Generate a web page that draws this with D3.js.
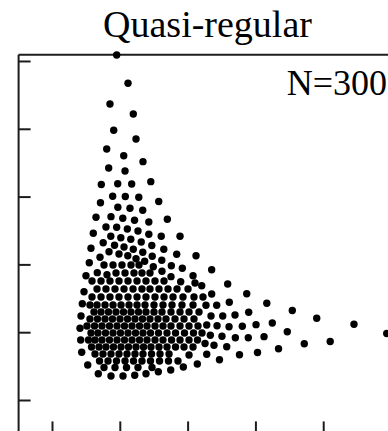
<!DOCTYPE html>
<html>
<head>
<meta charset="utf-8">
<script src="https://cdn.jsdelivr.net/npm/d3@7"></script>
<style>
body { margin: 0; background: #fff; }
svg { display: block; }
</style>
</head>
<body>
<svg id="chart" width="388" height="431"></svg>
<script>
// ticks have no labels in the figure
var xTicks = [0, 1, 2, 3, 4, 5];
var yTicks = [0, 1, 2, 3, 4, 5];

// point positions (x, y pairs by index)
// outer / sparse points
var xs = [0.954,1.121,0.855,1.199,0.910,1.239,0.807,1.058,1.342,0.836,1.077,0.727,0.969,1.175,1.457,0.895,1.081,1.280,1.574,0.715,
0.971,1.150,1.338,0.649,0.870,1.044,1.217,1.428,1.701,0.609,0.796,0.954,1.111,1.268,1.428,1.611,1.888,0.867,1.015,1.162,
1.316,1.472,1.649,1.839,2.124,0.575,0.755,0.922,1.062,1.199,1.339,1.478,1.619,1.760,1.922,2.355,0.550,0.708,0.841,0.988,
1.118,1.239,1.367,1.494,1.622,1.755,1.898,2.080,2.208,2.591,2.355,2.872,2.271,2.429,2.615,3.168,2.345,2.518,2.699,2.901,
3.544,2.282,2.434,2.611,2.807,3.009,3.249,3.470,2.335,2.507,2.704,2.895,3.127,2.257,2.389,2.577,3.341,2.282,2.765,3.031,
2.470,3.904,4.454,4.937,3.721,4.103,2.143,1.937,1.751,1.568,1.386,1.220,1.047,0.870,0.683,0.527,0.438,0.423,0.413,0.428,
0.447,0.472,0.501,0.668,0.811];
var ys = [5.088,4.671,4.366,4.218,3.978,3.850,3.702,3.603,3.515,3.422,3.378,3.178,3.190,3.186,3.220,3.006,3.001,2.990,2.928,2.909,
2.842,2.827,2.798,2.695,2.704,2.681,2.652,2.625,2.665,2.459,2.552,2.547,2.522,2.493,2.445,2.416,2.414,2.414,2.394,2.370,
2.330,2.279,2.224,2.149,2.128,2.237,2.319,2.283,2.257,2.223,2.178,2.121,2.062,1.981,1.942,1.922,2.024,2.105,2.186,2.153,
2.127,2.084,2.046,1.966,1.898,1.819,1.745,1.833,1.686,1.711,1.563,1.566,1.397,1.397,1.441,1.426,1.239,1.239,1.254,1.294,
1.320,1.106,1.096,1.081,1.087,1.111,1.136,1.006,0.954,0.940,0.919,0.919,0.934,0.833,0.807,0.786,0.755,0.674,0.668,0.701,
0.593,1.205,1.117,0.981,0.830,0.863,0.531,0.487,0.442,0.417,0.388,0.364,0.354,0.354,0.388,0.516,0.704,0.885,1.058,1.239,
1.420,1.597,1.833,1.878,1.848];

// dense core, row by row
var coreX = [0.767,0.900,1.032,1.165,1.283,
0.944,1.077,1.209,1.327,1.445,
0.590,0.723,0.855,0.988,1.121,1.254,1.386,1.519,1.652,
0.664,0.796,0.929,1.062,1.195,1.327,1.445,1.578,1.711,1.844,2.006,
0.590,0.723,0.855,0.988,1.121,1.254,1.386,1.519,1.652,1.785,1.932,2.094,2.227,
0.560,0.664,0.782,0.900,1.018,1.136,1.254,1.372,1.504,1.637,1.770,1.917,2.080,
0.619,0.723,0.833,0.944,1.055,1.165,1.276,1.386,1.504,1.622,1.755,1.888,2.021,2.168,
0.560,0.671,0.782,0.892,1.003,1.114,1.224,1.335,1.445,1.563,1.681,1.814,1.947,2.094,
0.516,0.627,0.737,0.848,0.959,1.069,1.180,1.291,1.401,1.519,1.637,1.755,1.888,2.021,2.153,
0.575,0.678,0.789,0.900,1.010,1.121,1.232,1.342,1.453,1.571,1.696,1.822,1.954,2.087,2.212,
0.538,0.634,0.737,0.848,0.959,1.069,1.180,1.291,1.401,1.519,1.637,1.763,1.888,2.021,2.146,
0.583,0.693,0.796,0.907,1.018,1.128,1.239,1.350,1.460,1.578,1.696,1.822,1.947,2.080,
0.634,0.752,0.870,0.988,1.106,1.224,1.342,1.468,1.593,1.726,
0.701,0.826,0.951,1.077,1.202,1.327,1.453,1.586,1.718,1.858,2.021,
0.767,0.929,1.099,1.268,1.475,2.109];
var coreY = [1.991,1.991,1.991,1.991,1.991,
1.873,1.873,1.873,1.873,1.873,
1.755,1.755,1.755,1.755,1.755,1.755,1.755,1.755,1.755,
1.637,1.637,1.637,1.637,1.637,1.637,1.637,1.637,1.637,1.637,1.637,
1.519,1.519,1.519,1.519,1.519,1.519,1.519,1.519,1.519,1.519,1.519,1.519,1.519,
1.401,1.401,1.401,1.401,1.401,1.401,1.401,1.401,1.401,1.401,1.401,1.401,1.401,
1.298,1.298,1.298,1.298,1.298,1.298,1.298,1.298,1.298,1.298,1.298,1.298,1.298,1.298,
1.195,1.195,1.195,1.195,1.195,1.195,1.195,1.195,1.195,1.195,1.195,1.195,1.195,1.195,
1.091,1.091,1.091,1.091,1.091,1.091,1.091,1.091,1.091,1.091,1.091,1.091,1.091,1.091,1.091,
0.988,0.988,0.988,0.988,0.988,0.988,0.988,0.988,0.988,0.988,0.988,0.988,0.988,0.988,0.988,
0.885,0.885,0.885,0.885,0.885,0.885,0.885,0.885,0.885,0.885,0.885,0.885,0.885,0.885,0.885,
0.782,0.782,0.782,0.782,0.782,0.782,0.782,0.782,0.782,0.782,0.782,0.782,0.782,0.782,
0.678,0.678,0.678,0.678,0.678,0.678,0.678,0.678,0.678,0.678,
0.575,0.575,0.575,0.575,0.575,0.575,0.575,0.575,0.575,0.575,0.664,
0.479,0.479,0.479,0.479,0.479,1.726];

var points = xs.map(function(d, i) { return {x: d, y: ys[i]}; })
  .concat(coreX.map(function(d, i) { return {x: d, y: coreY[i]}; }));

var svg = d3.select("#chart");

var x = d3.scaleLinear().domain([-0.5, 5.1]).range([18.1, 397.8]);
var y = d3.scaleLinear().domain([-0.5, 5.1]).range([433.9, 54.2]);

var axisColor = "#1c1c1c";

// left frame + ticks (pointing inward)
svg.append("g")
  .attr("class", "axis axis--y")
  .attr("transform", "translate(" + x(-0.5) + ",0)")
  .call(d3.axisLeft(y).tickValues(yTicks).tickSize(-12.5).tickSizeOuter(0).tickFormat(""));

// bottom frame + ticks
svg.append("g")
  .attr("class", "axis axis--x")
  .attr("transform", "translate(0," + y(-0.5) + ")")
  .call(d3.axisBottom(x).tickValues(xTicks).tickSize(-12.5).tickSizeOuter(0).tickFormat(""));

// top frame, no ticks
svg.append("g")
  .attr("class", "axis axis--top")
  .attr("transform", "translate(0," + y(5.1) + ")")
  .call(d3.axisTop(x).tickValues([]).tickSizeOuter(0));

svg.selectAll(".axis path, .axis line")
  .attr("stroke", axisColor)
  .attr("stroke-width", 2);

svg.selectAll(".dot")
  .data(points)
  .enter().append("circle")
  .attr("class", "dot")
  .attr("cx", function(d) { return x(d.x); })
  .attr("cy", function(d) { return y(d.y); })
  .attr("r", 3.7)
  .attr("fill", "#000");

svg.append("text")
  .attr("x", 207.5)
  .attr("y", 37)
  .attr("text-anchor", "middle")
  .attr("font-family", "'Liberation Serif', 'Times New Roman', serif")
  .attr("font-size", 38)
  .attr("fill", "#000")
  .text("Quasi-regular");

svg.append("text")
  .attr("x", 387)
  .attr("y", 95)
  .attr("text-anchor", "end")
  .attr("font-family", "'Liberation Serif', 'Times New Roman', serif")
  .attr("font-size", 36)
  .attr("fill", "#000")
  .text("N=300");
</script>
</body>
</html>
